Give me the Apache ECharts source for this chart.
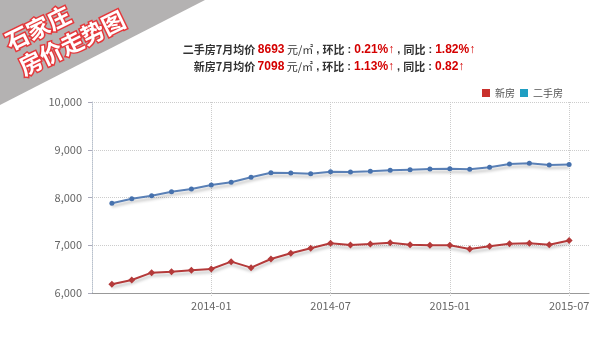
<!DOCTYPE html>
<html><head><meta charset="utf-8">
<script src="https://cdn.jsdelivr.net/npm/echarts@6/dist/echarts.min.js"></script>
<style>html,body{margin:0;padding:0;background:#fff}#c{width:600px;height:342px}</style>
</head><body><div id="c"></div>
<script>
var months = ['2013-07','2013-08','2013-09','2013-10','2013-11','2013-12','2014-01','2014-02','2014-03','2014-04','2014-05','2014-06','2014-07','2014-08','2014-09','2014-10','2014-11','2014-12','2015-01','2015-02','2015-03','2015-04','2015-05','2015-06','2015-07','2015-08'];
var tickLabels = ['2014-01','2014-07','2015-01','2015-07'];
var newHouse = [null,6182,6272,6426,6447,6475,6503,6657,6531,6712,6831,6936,7041,7005,7026,7054,7012,6998,6998,6921,6977,7033,7040,7012,7098,null];
var resale = [null,7879,7975,8038,8122,8178,8262,8318,8423,8520,8513,8499,8538,8536,8548,8569,8583,8597,8604,8590,8632,8702,8716,8681,8693,null];
var seriesNames = ['新房','二手房'];
var yTicks = [6000,7000,8000,9000,10000];

var chart = echarts.init(document.getElementById('c'));
var font = '"Noto Sans CJK SC", "Noto Sans", sans-serif';
function showTick(i, v){ return tickLabels.indexOf(v) >= 0; }
var rich = {
  b:{fontSize:11,fontWeight:'bold',fill:'#333',fontFamily:font},
  n:{fontSize:11,fill:'#333',fontFamily:font},
  p:{fontSize:11,fontWeight:'bold',fill:'#333',fontFamily:'"Liberation Sans", sans-serif'},
  r:{fontSize:12,fontWeight:'bold',fill:'#d40000',fontFamily:'"Liberation Sans", sans-serif'}
};
var rot = 26*Math.PI/180;
chart.setOption({
  animation:false,
  textStyle:{fontFamily:font},
  graphic:[
    {type:'polygon', shape:{points:[[0,0],[205,0],[0,105]]}, style:{fill:'#b4b2b2'}, z:10},
    {type:'text', x:38, y:28, rotation:rot, style:{text:'石家庄', align:'center', verticalAlign:'middle', fill:'#fff', stroke:'#e5383b', lineWidth:3, font:'bold 23px '+font}, z:11},
    {type:'text', x:72, y:43, rotation:rot, style:{text:'房价走势图', align:'center', verticalAlign:'middle', fill:'#fff', stroke:'#e5383b', lineWidth:3, font:'bold 23px '+font}, z:11},
    {type:'text', x:329, y:50, style:{
      text:'{b|二手房7月均价 }{r|8693}{n| 元/㎡}{p| , }{b|环比}{p| : }{r|0.21%↑}{p| , }{b|同比}{p| : }{r|1.82%↑}',
      align:'center', verticalAlign:'middle', rich:rich}},
    {type:'text', x:329, y:67, style:{
      text:'{b|新房7月均价 }{r|7098}{n| 元/㎡}{p| , }{b|环比}{p| : }{r|1.13%↑}{p| , }{b|同比}{p| : }{r|0.82↑}',
      align:'center', verticalAlign:'middle', rich:rich}}
  ],
  legend:{data:[{name:seriesNames[0],itemStyle:{color:'#c9302c'}},{name:seriesNames[1],itemStyle:{color:'#1f9ec2'}}], right:32, top:83, icon:'rect', itemWidth:8, itemHeight:8, itemGap:5, textStyle:{fontSize:10,color:'#555',fontFamily:font}},
  grid:{left:92, right:11, top:102, bottom:49},
  xAxis:{type:'category', data:months, boundaryGap:false,
    axisLine:{lineStyle:{color:'#999',width:1}},
    axisTick:{show:true, interval:showTick, length:4, lineStyle:{color:'#ccc',type:'dotted'}},
    axisLabel:{interval:showTick, color:'#666', fontSize:11, margin:7, fontFamily:font},
    splitLine:{show:true, interval:showTick, lineStyle:{color:'#ccc',type:'dotted'}}
  },
  yAxis:{type:'value', min:yTicks[0], max:yTicks[yTicks.length-1], interval:1000,
    axisLine:{show:true, lineStyle:{color:'#b8c0cc',type:'dotted'}},
    axisTick:{show:true, length:4, lineStyle:{color:'#aab'}},
    axisLabel:{color:'#666', fontSize:11, margin:10, fontFamily:font, formatter:function(v){return v.toLocaleString('en-US');}},
    splitLine:{lineStyle:{color:'#ccc',type:'dotted'}}
  },
  series:[
    {name:seriesNames[0], type:'line', data:newHouse, symbol:'diamond', symbolSize:7, showAllSymbol:true,
      itemStyle:{color:'#b43a3a'}, lineStyle:{color:'#b43a3a', width:2, shadowColor:'rgba(0,0,0,0.25)', shadowBlur:3, shadowOffsetY:3}},
    {name:seriesNames[1], type:'line', data:resale, symbol:'circle', symbolSize:5, showAllSymbol:true,
      itemStyle:{color:'#4671ad'}, lineStyle:{color:'#5a80b6', width:2, shadowColor:'rgba(0,0,0,0.25)', shadowBlur:3, shadowOffsetY:3}}
  ]
});
</script></body></html>
